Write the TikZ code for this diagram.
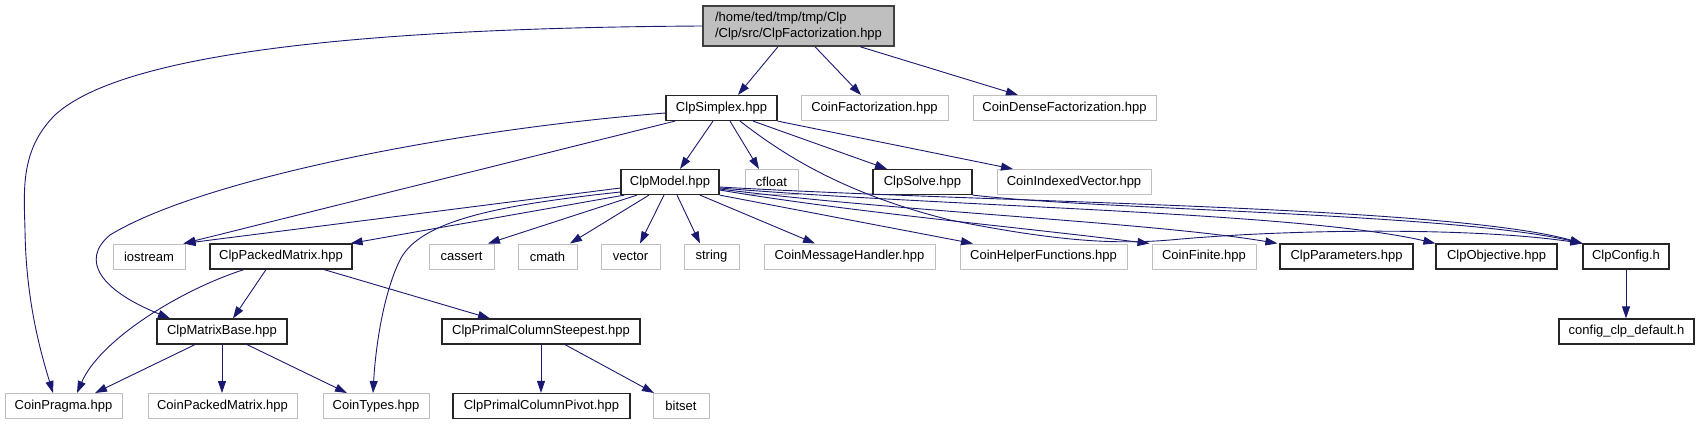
\documentclass[tikz,border=0pt]{standalone}
\usepackage{fontspec}
\setmainfont{Liberation Sans}
\usetikzlibrary{arrows.meta}
\definecolor{edgec}{HTML}{191970}
\definecolor{lgray}{HTML}{BFBFBF}
\definecolor{mainfill}{HTML}{BFBFBF}
\tikzset{
  base/.style={rectangle, inner sep=0pt, minimum height=25pt, font=\fontsize{13pt}{16pt}\selectfont, fill=white},
  blk/.style={base, draw=black!85, line width=1.2pt},
  gry/.style={base, draw=lgray, line width=1pt},
  mainbox/.style={base, draw=black!75, line width=1.4pt, fill=mainfill, minimum height=40pt, align=left},
  edge/.style={draw=edgec, line width=0.9pt, -{Triangle[length=12pt,width=8pt]}}
}
\begin{document}
\begin{tikzpicture}[x=1pt,y=-1pt]
\useasboundingbox (0,0) rectangle (1697,425);
% row 0
\node[mainbox, minimum width=191pt] (main) at (798.5,26) {/home/ted/tmp/tmp/Clp\\/Clp/src/ClpFactorization.hpp};
% row 1
\node[blk, minimum width=111pt] (simplex) at (721.5,108) {ClpSimplex.hpp};
\node[gry, minimum width=147pt] (cfact) at (874.5,108) {CoinFactorization.hpp};
\node[gry, minimum width=183pt] (cdense) at (1064.5,108) {CoinDenseFactorization.hpp};
% row 2
\node[blk, minimum width=98pt] (model) at (670,182) {ClpModel.hpp};
\node[gry, minimum width=53pt] (cfloat) at (771.5,182) {cfloat};
\node[blk, minimum width=99pt] (solve) at (922.5,182) {ClpSolve.hpp};
\node[gry, minimum width=154pt] (civ) at (1074,182) {CoinIndexedVector.hpp};
% row 3
\node[gry, minimum width=72pt] (iostream) at (149,256.5) {iostream};
\node[blk, minimum width=142pt] (cpm) at (281,256.5) {ClpPackedMatrix.hpp};
\node[gry, minimum width=65pt] (cassert) at (461.5,256.5) {cassert};
\node[gry, minimum width=59pt] (cmath) at (547.5,256.5) {cmath};
\node[gry, minimum width=59pt] (vector) at (630.5,256.5) {vector};
\node[gry, minimum width=55pt] (string) at (711.5,256.5) {string};
\node[gry, minimum width=171pt] (cmh) at (849.5,256.5) {CoinMessageHandler.hpp};
\node[gry, minimum width=167pt] (chf) at (1043.5,256.5) {CoinHelperFunctions.hpp};
\node[gry, minimum width=104pt] (cfin) at (1204,256.5) {CoinFinite.hpp};
\node[blk, minimum width=133pt] (cparam) at (1346.5,256.5) {ClpParameters.hpp};
\node[blk, minimum width=121pt] (cobj) at (1496.5,256.5) {ClpObjective.hpp};
\node[blk, minimum width=86pt] (cconf) at (1626,256.5) {ClpConfig.h};
% row 4
\node[blk, minimum width=130pt] (cmb) at (222,331.5) {ClpMatrixBase.hpp};
\node[blk, minimum width=198pt] (cpcs) at (541,331.5) {ClpPrimalColumnSteepest.hpp};
\node[blk, minimum width=135pt] (cdef) at (1626.5,331.5) {config\_clp\_default.h};
% row 5
\node[gry, minimum width=117pt] (cpragma) at (63.5,406) {CoinPragma.hpp};
\node[gry, minimum width=149pt] (cpackm) at (222.5,406) {CoinPackedMatrix.hpp};
\node[gry, minimum width=106pt] (ctypes) at (376,406) {CoinTypes.hpp};
\node[blk, minimum width=177pt] (cpcp) at (541.5,406) {ClpPrimalColumnPivot.hpp};
\node[gry, minimum width=56pt] (bitset) at (681,406) {bitset};

% edges from main
\path[edge] ([xshift=-20.5pt]main.south) -- ([xshift=16.5pt]simplex.north);
\path[edge] ([xshift=16.5pt]main.south) -- ([xshift=-13.5pt]cfact.north);
\path[edge] ([xshift=61.5pt]main.south) -- ([xshift=-46.5pt]cdense.north);
\path[edge] (main.west) .. controls (350,28) and (120,55) .. (55,115)
  .. controls (20,150) and (24,190) .. (25,230)
  .. controls (26,300) and (40,350) .. ([xshift=-10.5pt]cpragma.north);

% edges from ClpSimplex
\path[edge] ([xshift=-8.5pt]simplex.south) -- ([xshift=10pt]model.north);
\path[edge] ([xshift=8.5pt]simplex.south) -- ([xshift=-12.5pt]cfloat.north);
\path[edge] ([xshift=31.5pt]simplex.south) -- ([xshift=-35.5pt]solve.north);
\path[edge] (simplex.south east) -- ([xshift=-61pt]civ.north);
\path[edge] ([xshift=-46.5pt]simplex.south) -- ([xshift=-2pt]iostream.north east);
\path[edge] ([yshift=-5pt]simplex.west) .. controls (450,130) and (200,180) .. (110,235)
  .. controls (80,260) and (100,290) .. ([xshift=-52pt]cmb.north);
\path[edge] ([xshift=18.5pt]simplex.south) .. controls (790,160) and (850,195) .. (950,220)
  .. controls (1050,240) and (1110,245) .. (1170,240)
  .. controls (1300,228) and (1480,228) .. (cconf.north west);

% edges from ClpModel
\path[edge] ([yshift=-6pt]model.west) -- ([xshift=-2pt]iostream.north east);
\path[edge] ([xshift=4pt]model.south west) -- ([xshift=-2pt]cpm.north east);
\path[edge] ([yshift=-10pt]model.west) .. controls (500,205) and (420,220) .. (400,260)
  .. controls (385,290) and (376,340) .. ([xshift=-3pt]ctypes.north);
\path[edge] ([xshift=-33pt]model.south) -- ([xshift=26.5pt]cassert.north);
\path[edge] ([xshift=-21pt]model.south) -- ([xshift=22.5pt]cmath.north);
\path[edge] ([xshift=-6pt]model.south) -- ([xshift=9.5pt]vector.north);
\path[edge] ([xshift=7pt]model.south) -- ([xshift=-11.5pt]string.north);
\path[edge] ([xshift=30pt]model.south) -- ([xshift=-34.5pt]cmh.north);
\path[edge] (model.south east) -- ([xshift=-70.5pt]chf.north);
\path[edge] ([yshift=-8pt]model.east) .. controls (850,212) and (1000,225) .. ([xshift=-2pt]cfin.north west);
\path[edge] ([yshift=-7pt]model.east) .. controls (900,212) and (1150,222) .. ([xshift=-2pt]cparam.north west);
\path[edge] ([yshift=-6pt]model.east) .. controls (950,207) and (1300,212) .. (cobj.north west);
\path[edge] ([yshift=-5pt]model.east) .. controls (1000,203) and (1450,206) .. (cconf.north west);

% ClpSolve
\path[edge] (solve.south east) .. controls (1100,210) and (1450,213) .. (cconf.north west);

% ClpPackedMatrix
\path[edge] ([xshift=-15pt]cpm.south) -- ([xshift=11pt]cmb.north);
\path[edge] ([xshift=-37pt]cpm.south) .. controls (180,290) and (100,340) .. ([xshift=13.5pt]cpragma.north);
\path[edge] ([xshift=43pt]cpm.south) -- ([xshift=-51pt]cpcs.north);

% ClpMatrixBase
\path[edge] ([xshift=-27pt]cmb.south) -- ([xshift=31.5pt]cpragma.north);
\path[edge] (cmb.south) -- (cmb.south |- cpackm.north);
\path[edge] ([xshift=25pt]cmb.south) -- ([xshift=-29pt]ctypes.north);

% ClpPrimalColumnSteepest
\path[edge] (cpcs.south) -- (cpcs.south |- cpcp.north);
\path[edge] ([xshift=24pt]cpcs.south) -- ([xshift=-27pt]bitset.north);

% ClpConfig
\path[edge] (cconf.south) -- (cconf.south |- cdef.north);
\end{tikzpicture}
\end{document}
